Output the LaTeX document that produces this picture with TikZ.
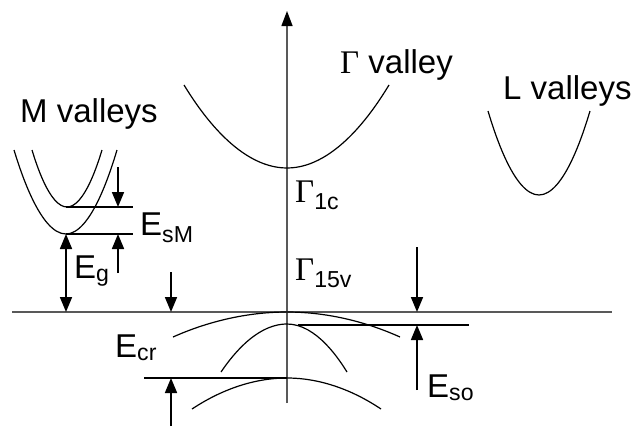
\documentclass[tikz,border=0pt]{standalone}
\usepackage{fontspec}
\setmainfont{Liberation Sans}
\newfontfamily\gfont{Liberation Serif}
\usetikzlibrary{arrows.meta}

\begin{document}
\begin{tikzpicture}[x=1pt, y=-1pt,
  band/.style={line width=1.2pt},
  axisline/.style={line width=1.4pt, draw=black!65},
  level/.style={line width=1.5pt},
  gaparrow/.style={line width=1.7pt, -{Triangle[length=15pt,width=12pt]}},
  lbl/.style={anchor=base west, inner sep=0pt, font=\fontsize{33}{35}\selectfont}
]
  \useasboundingbox (0,0) rectangle (631,426);

  % axes
  \coordinate (axbot) at (287,403);
  \coordinate (axtop) at (287,11);
  \coordinate (vl) at (12,312);
  \coordinate (vr) at (612,312);
  \draw[axisline, -{Triangle[length=15pt,width=11pt,color=black]}] (axbot) -- (axtop);
  \draw[axisline] (vl) -- (vr);

  % conduction valleys
  \draw[band] (184,85) parabola bend (287,168) (389,85);
  \draw[band] (488,111) parabola bend (539,195) (590,111);
  \draw[band] (14,150) parabola bend (66,234) (117,150);
  \draw[band] (32,150) parabola bend (67,207) (102,150);

  % valence bands
  \draw[band] (173,337) parabola bend (287,312) (400,337);
  \draw[band] (221,372) parabola bend (287,324) (347,372);
  \draw[band] (192,409) parabola bend (287,378) (381,409);

  % levels
  \coordinate (m1a) at (66,207);  \coordinate (m1b) at (133,207);
  \coordinate (m2a) at (66,234);  \coordinate (m2b) at (133,234);
  \coordinate (soa) at (298,325); \coordinate (sob) at (469,325);
  \coordinate (cra) at (144,378); \coordinate (crb) at (287,378);
  \draw[level] (m1a) -- (m1b);
  \draw[level] (m2a) -- (m2b);
  \draw[level] (soa) -- (sob);
  \draw[level] (cra) -- (crb);

  % gap arrows
  \coordinate (esm1) at (118,167); \coordinate (esm1e) at (118,207);
  \coordinate (esm2) at (118,273); \coordinate (esm2e) at (118,234);
  \coordinate (egb) at (66,312);
  \coordinate (cr1) at (171,272);  \coordinate (cr1e) at (171,312);
  \coordinate (cr2) at (171,426);  \coordinate (cr2e) at (171,378);
  \coordinate (so1) at (417,247);  \coordinate (so1e) at (417,312);
  \coordinate (so2) at (417,390);  \coordinate (so2e) at (417,325);
  \draw[gaparrow] (esm1) -- (esm1e);
  \draw[gaparrow] (esm2) -- (esm2e);
  \draw[gaparrow, {Triangle[length=15pt,width=12pt]}-{Triangle[length=15pt,width=12pt]}] (m2a) -- (egb);
  \draw[gaparrow] (cr1) -- (cr1e);
  \draw[gaparrow] (cr2) -- (cr2e);
  \draw[gaparrow] (so1) -- (so1e);
  \draw[gaparrow] (so2) -- (so2e);

  % labels
  \node[lbl] (mval) at (20,122) {M valleys};
  \node[lbl] (gval) at (340,73) {{\gfont Γ} valley};
  \node[lbl] (lval) at (503,99) {L valleys};
  \node[lbl] (g1c) at (295,202) {{\gfont Γ}\textsubscript{1c}};
  \node[lbl] (g15v) at (295,280) {{\gfont Γ}\textsubscript{15v}};
  \node[lbl] (esm) at (140,235) {E\textsubscript{sM}};
  \node[lbl] (eg) at (74,278) {E\textsubscript{g}};
  \node[lbl] (ecr) at (115,357) {E\textsubscript{cr}};
  \node[lbl] (eso) at (427,397) {E\textsubscript{so}};
\end{tikzpicture}
\end{document}
